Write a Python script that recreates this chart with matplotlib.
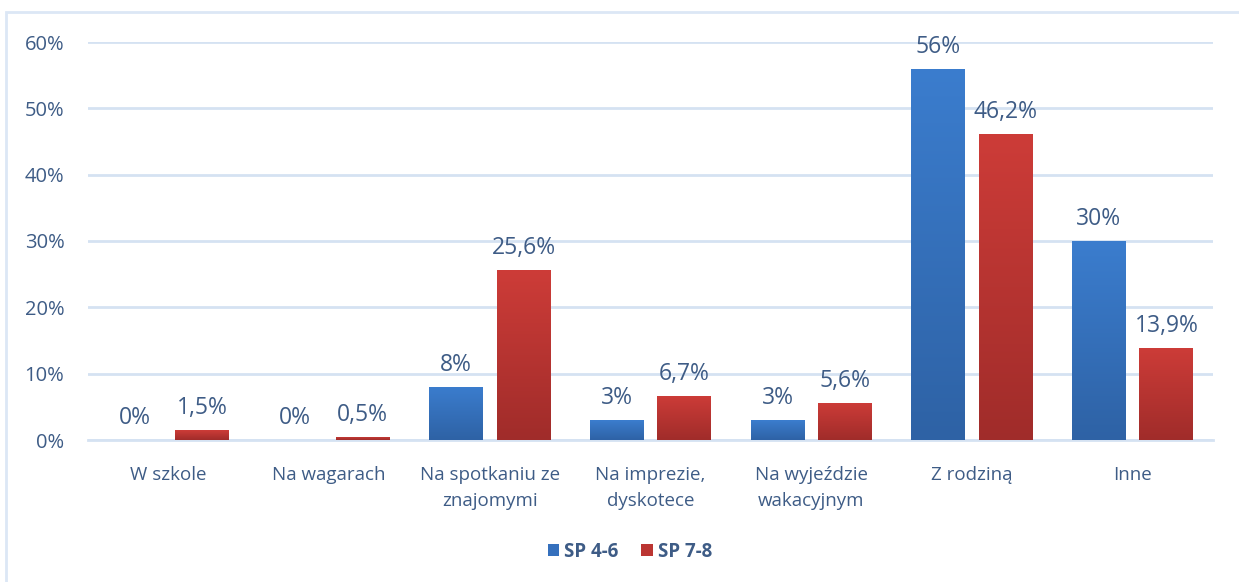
import matplotlib
matplotlib.use("Agg")
import matplotlib.pyplot as plt
import numpy as np
from matplotlib.patches import Rectangle
from matplotlib.colors import LinearSegmentedColormap

categories = ["W szkole", "Na wagarach", "Na spotkaniu ze\nznajomymi", "Na imprezie,\ndyskotece",
              "Na wyjeździe\nwakacyjnym", "Z rodziną", "Inne"]
series_names = ["SP 4-6", "SP 7-8"]
sp46 = [0, 0, 8, 3, 3, 56, 30]
sp78 = [1.5, 0.5, 25.6, 6.7, 5.6, 46.2, 13.9]
labels46 = ["0%", "0%", "8%", "3%", "3%", "56%", "30%"]
labels78 = ["1,5%", "0,5%", "25,6%", "6,7%", "5,6%", "46,2%", "13,9%"]
yticks = [0, 10, 20, 30, 40, 50, 60]

plt.rcParams['font.family'] = ['Open Sans', 'DejaVu Sans']
txt = "#3E5C86"
grid_c = "#D5E2F2"

fig = plt.figure(figsize=(12.39, 5.82), dpi=100)
fig.patches.append(Rectangle((6/1239, -0.1), 1.2, 1.1 - 12/582, transform=fig.transFigure,
                             fill=False, edgecolor="#DCE7F5", linewidth=2, zorder=0))
ax = fig.add_axes([88/1239, 1 - 440/582, 1125/1239, (440 - 42)/582])
ax.set_xlim(-0.5, len(categories) - 0.5)
ax.set_ylim(0, 60)
for s in ax.spines.values():
    s.set_visible(False)
ax.set_yticks(yticks)
ax.set_yticklabels([f"{v}%" for v in yticks])
ax.yaxis.grid(True, color=grid_c, linewidth=2)
ax.set_axisbelow(True)
ax.tick_params(axis='y', length=0, pad=17, labelsize=14.5, labelcolor=txt)
ax.tick_params(axis='x', length=0, pad=19, labelsize=13.5, labelcolor=txt)
x = np.arange(len(categories))
ax.set_xticks(x)
ax.set_xticklabels(categories, linespacing=1.55)
ax.axhline(0, color=grid_c, linewidth=2, zorder=1, clip_on=False)

w = 0.335
off = 0.21
cm_blue = LinearSegmentedColormap.from_list("b", ["#2E62A5", "#3B7DCE"])
cm_red = LinearSegmentedColormap.from_list("r", ["#A02C2A", "#CD3C38"])
grad = np.linspace(0, 1, 256).reshape(-1, 1)

def draw(vals, labs, dx, cmap, solid, name):
    bars = ax.bar(x + dx, vals, w, color=solid, zorder=2, label=name)
    for b, v, l in zip(bars, vals, labs):
        if v > 0:
            im = ax.imshow(grad, cmap=cmap, origin="lower", aspect="auto",
                           extent=(b.get_x(), b.get_x() + w, 0, v), zorder=3)
            im.set_clip_path(b)
        ax.annotate(l, (b.get_x() + w / 2, v), xytext=(0, 7), textcoords="offset points",
                    ha="center", va="bottom", fontsize=16.5, color=txt, zorder=4)
    return bars

draw(sp46, labels46, -off, cm_blue, "#3570BD", series_names[0])
draw(sp78, labels78, off, cm_red, "#BB3532", series_names[1])
ax.set_xlim(-0.5, len(categories) - 0.5)
ax.set_ylim(0, 60)

leg = fig.legend(loc="center", bbox_to_anchor=(630/1239, 1 - 552/582), ncol=2, frameon=False,
                 handlelength=0.6, handleheight=0.6, handletextpad=0.3, columnspacing=1.2,
                 prop={'weight': 'bold', 'size': 13.5})
for t in leg.get_texts():
    t.set_color(txt)

fig.savefig("out.png", dpi=100)
